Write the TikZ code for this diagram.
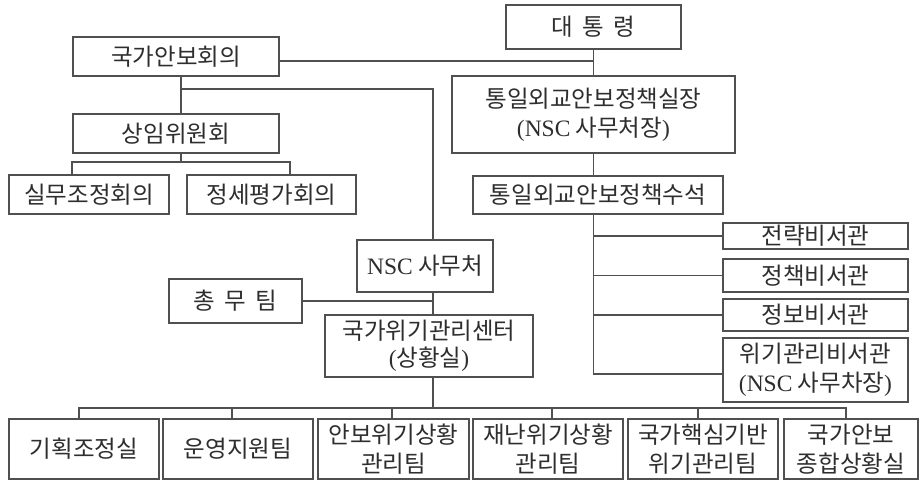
\documentclass[tikz,border=0pt]{standalone}
\usepackage{fontspec}
\setmainfont{Noto Sans CJK KR}
\newfontfamily\lat{Liberation Serif}
\definecolor{linec}{HTML}{505050}
\definecolor{txtc}{HTML}{2e2e2e}
\tikzset{
  box/.style={draw=linec, line width=1.3pt, inner sep=0pt, align=center, text=txtc,
    font=\fontsize{23.5}{29}\selectfont},
  tight/.style={font=\fontsize{23.5}{27}\selectfont},
  conn/.style={draw=linec, line width=1.3pt},
}
\newcommand{\bx}[7][]{\node[box, #1, minimum width={(#5-#3)*1pt}, minimum height={(#6-#4)*1pt}] (#2) at ({(#3+#5)/2},{(#4+#6)/2}) {#7};}
\begin{document}
\begin{tikzpicture}[x=1pt,y=-1pt]
\useasboundingbox[fill=white] (0,0) rectangle (920,481);
% boxes
\bx{pres}{506}{5}{681}{49}{대\hspace{0.4em}통\hspace{0.4em}령}
\bx{nsc}{73}{37}{279}{76}{국가안보회의}
\bx{chief}{452}{76}{735}{153}{통일외교안보정책실장\\{\lat(NSC} 사무처장{\lat)}}
\bx{senior}{473}{176}{723}{214}{통일외교안보정책수석}
\bx{sc}{73}{114}{279}{153}{상임위원회}
\bx{wk}{9}{175}{169}{214}{실무조정회의}
\bx{ev}{187}{175}{356}{214}{정세평가회의}
\bx{sec}{357}{240}{493}{292}{{\lat NSC} 사무처}
\bx{gen}{169}{279}{302}{323}{총\hspace{0.4em}무\hspace{0.4em}팀}
\bx[tight]{ctr}{325}{315}{533}{377}{국가위기관리센터\\{\lat(}상황실{\lat)}}
\bx{sa}{723}{223}{908}{249}{전략비서관}
\bx{sb}{723}{259}{908}{292}{정책비서관}
\bx{sd}{723}{299}{908}{331}{정보비서관}
\bx{se}{723}{338}{908}{402}{위기관리비서관\\{\lat(NSC} 사무차장{\lat)}}
\bx{ba}{9}{419}{159}{479}{기획조정실}
\bx{bb}{163}{419}{313}{479}{운영지원팀}
\bx{bc}{318}{419}{469}{479}{안보위기상황\\관리팀}
\bx{bd}{473}{419}{623}{479}{재난위기상황\\관리팀}
\bx{be}{628}{419}{778}{479}{국가핵심기반\\위기관리팀}
\bx{bf}{784}{419}{918}{479}{국가안보\\종합상황실}
% junction coordinates
\coordinate (jp) at (593.5,61);
\coordinate (jn) at (181,89);
\coordinate (js) at (433,89);
\coordinate (jc) at (181,162);
\coordinate (jwk) at (72,162);
\coordinate (jev) at (290,162);
\coordinate (jg) at (433,301);
\coordinate (jr) at (593.5,374);
\coordinate (jb) at (433,408);
\coordinate (jbl) at (79,408);
\coordinate (jbr) at (846,408);
% connectors
\draw[conn] (pres.south -| jp) -- (chief.north -| jp);
\draw[conn] (nsc.east |- jp) -- (jp);
\draw[conn] (chief.south -| jp) -- (senior.north -| jp);
\draw[conn] (senior.south -| jr) -- (jr) -- (se.west |- jr);
\draw[conn] (sa.west -| jr) -- (sa.west);
\draw[conn] (sb.west -| jr) -- (sb.west);
\draw[conn] (sd.west -| jr) -- (sd.west);
\draw[conn] (nsc.south -| jn) -- (sc.north -| jn);
\draw[conn] (jn) -- (js) -- (sec.north -| js);
\draw[conn] (sc.south -| jc) -- (jc);
\draw[conn] (wk.north -| jwk) -- (jwk) -- (jev) -- (ev.north -| jev);
\draw[conn] (sec.south -| js) -- (ctr.north -| js);
\draw[conn] (gen.east |- jg) -- (jg);
\draw[conn] (ctr.south -| jb) -- (jb);
\draw[conn] (ba.north -| jbl) -- (jbl) -- (jbr) -- (bf.north -| jbr);
\draw[conn] (bb.north -| 232,0) -- (232,408);
\draw[conn] (bc.north -| 392,0) -- (392,408);
\draw[conn] (bd.north -| 552,0) -- (552,408);
\draw[conn] (be.north -| 698,0) -- (698,408);
\end{tikzpicture}
\end{document}
